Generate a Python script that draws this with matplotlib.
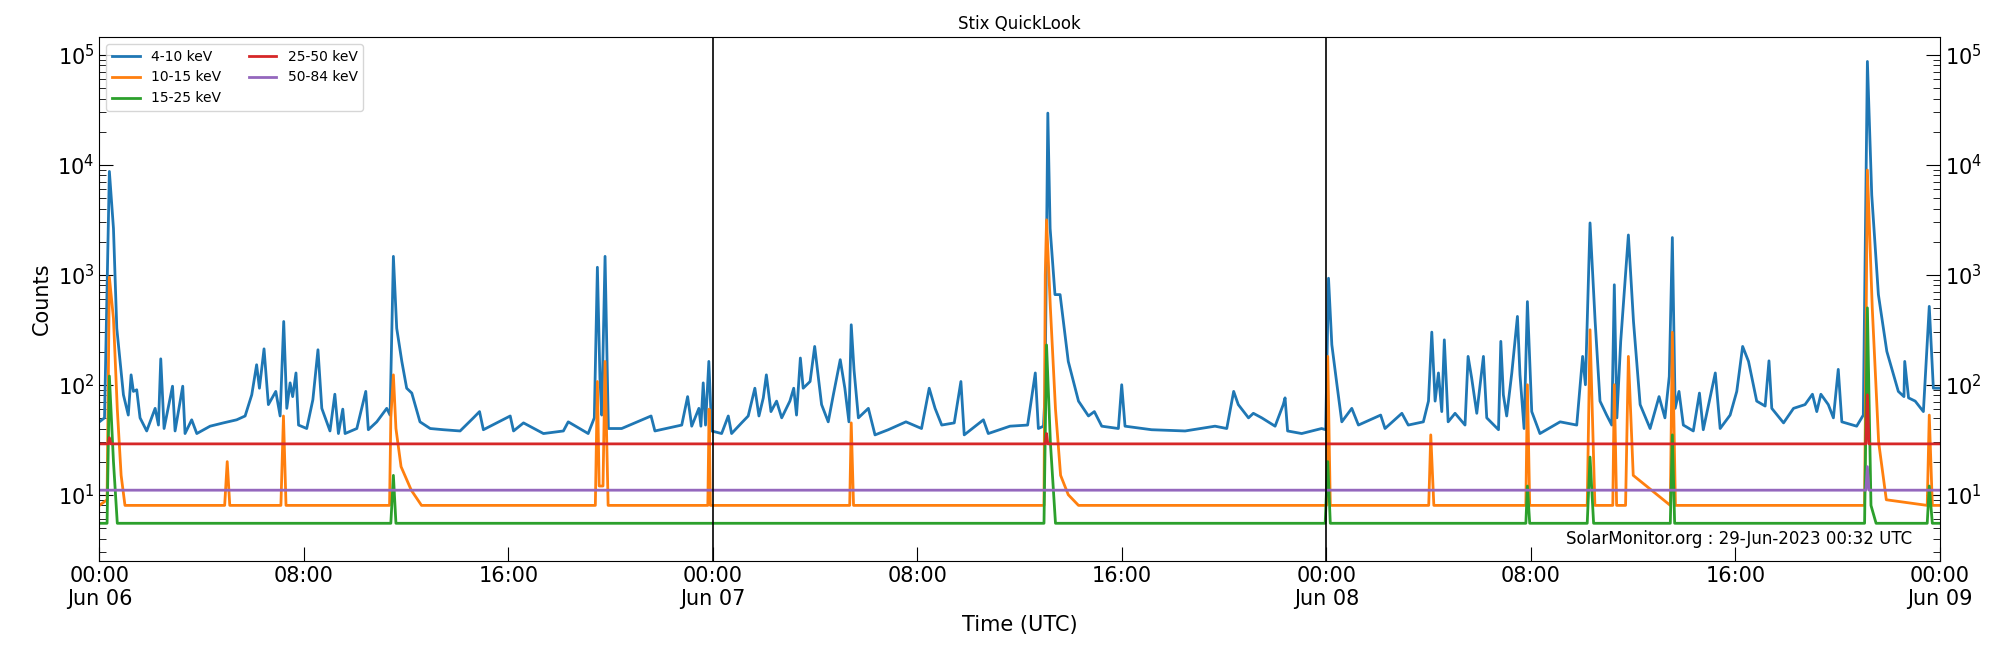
import matplotlib
matplotlib.use("Agg")
import matplotlib.pyplot as plt
from matplotlib.ticker import LogLocator, NullFormatter

t_4_10 = [0.0, 0.2, 0.39, 0.55, 0.68, 0.94, 1.13, 1.24, 1.33, 1.46, 1.59, 1.85, 2.18, 2.31, 2.40, 2.53,
          2.86, 2.96, 3.26, 3.35, 3.61, 3.81, 4.33, 4.85, 5.37, 5.70, 5.96, 6.15, 6.26, 6.44, 6.61, 6.90,
          7.07, 7.21, 7.33, 7.46, 7.56, 7.69, 7.79, 8.11, 8.35, 8.55, 8.70, 9.02, 9.21, 9.35, 9.52, 9.61,
          10.07, 10.42, 10.52, 10.85, 11.24, 11.37, 11.50, 11.63, 11.83, 12.02, 12.22, 12.54, 12.94, 13.46,
          14.11, 14.63, 14.87, 15.02, 16.07, 16.20, 16.59, 17.37, 18.15, 18.34, 19.12, 19.36, 19.48, 19.58,
          19.65, 19.78, 19.91, 20.43, 21.58, 21.73, 22.78, 23.01, 23.17, 23.45, 23.53, 23.62, 23.71, 23.84,
          23.95, 24.34, 24.60, 24.73, 25.12, 25.38, 25.64, 25.80, 25.97, 26.09, 26.27, 26.49, 26.69, 27.01,
          27.16, 27.27, 27.42, 27.53, 27.80, 27.98, 28.25, 28.51, 28.71, 28.98, 29.16, 29.32, 29.41, 29.52,
          29.69, 30.08, 30.34, 30.86, 31.55, 32.16, 32.46, 32.69, 32.95, 33.44, 33.70, 33.83, 34.58, 34.77,
          35.62, 36.31, 36.61, 36.73, 36.93, 36.99, 37.10, 37.19, 37.38, 37.58, 37.90, 38.30, 38.69, 38.92,
          39.21, 39.86, 39.99, 40.12, 41.16, 42.47, 43.64, 44.10, 44.37, 44.55, 44.95, 45.14, 45.47, 45.99,
          46.31, 46.38, 46.48, 47.03, 47.81, 47.97, 48.08, 48.21, 48.41, 48.60, 48.99, 49.25, 50.12, 50.29,
          50.95, 51.20, 51.79, 51.99, 52.12, 52.25, 52.38, 52.51, 52.61, 52.76, 53.03, 53.42, 53.54, 53.68,
          53.88, 54.14, 54.27, 54.73, 54.82, 54.92, 55.05, 55.25, 55.47, 55.57, 55.73, 55.86, 56.03, 56.35,
          57.14, 57.79, 58.02, 58.13, 58.31, 58.51, 58.70, 58.96, 59.16, 59.26, 59.36, 59.51, 59.81, 60.01,
          60.27, 60.66, 61.01, 61.24, 61.41, 61.53, 61.64, 61.79, 61.96, 62.35, 62.59, 62.74, 63.21, 63.40,
          63.79, 64.05, 64.28, 64.51, 64.83, 65.16, 65.31, 65.42, 65.88, 66.27, 66.72, 67.01, 67.18, 67.34,
          67.63, 67.83, 68.02, 68.16, 68.74, 69.00, 69.16, 69.33, 69.59, 69.92, 70.37, 70.59, 70.62, 70.77,
          71.03, 71.35, 71.58, 71.74, 72.0]
c_4_10 = [46, 50, 8700, 2640, 326, 81, 53, 123, 87, 90, 50, 38, 61, 43, 172, 40,
          97, 38, 97, 36, 48, 36, 42, 45, 48, 52, 81, 152, 93, 212, 66, 87,
          52, 376, 61, 104, 78, 128, 43, 40, 73, 208, 61, 38, 82, 36, 60, 36,
          40, 87, 39, 46, 61, 53, 1470, 326, 163, 93, 84, 46, 40, 39,
          38, 50, 57, 39, 52, 38, 45, 36, 38, 46, 36, 50, 1170, 115,
          53, 1470, 40, 40, 52, 38, 43, 78, 42, 61, 42, 104, 43, 163,
          38, 36, 52, 36, 45, 52, 93, 52, 76, 123, 57, 71, 50, 71,
          93, 53, 175, 93, 107, 223, 66, 46, 81, 169, 93, 46, 351, 136,
          50, 61, 35, 39, 46, 40, 93, 61, 43, 45, 107, 35, 48, 36,
          42, 43, 128, 40, 42, 81, 29500, 2640, 660, 660, 163, 71, 52, 57,
          42, 40, 100, 42, 39, 38, 42, 40, 87, 66, 50, 55, 50, 42,
          66, 76, 38, 36, 40, 39, 930, 231, 100, 46, 61, 43, 53, 40,
          55, 43, 46, 71, 301, 71, 128, 57, 256, 46, 55, 43, 181, 115,
          55, 181, 50, 39, 248, 81, 52, 128, 418, 123, 40, 570, 57, 36,
          46, 43, 181, 100, 2960, 376, 71, 53, 43, 811, 50, 248, 2300, 376,
          66, 40, 78, 50, 119, 2180, 61, 87, 43, 38, 84, 39, 128, 40,
          53, 87, 223, 163, 71, 64, 165, 61, 45, 61, 66, 82, 57, 82,
          66, 50, 138, 46, 42, 53, 87000, 5300, 660, 201, 87, 78, 163, 76,
          71, 57, 516, 93, 93]

t_10_15 = [0.0, 0.3, 0.39, 0.55, 0.7, 0.85, 1.0, 4.9, 5.0, 5.1, 7.1, 7.2, 7.3, 11.35, 11.4, 11.5, 11.6,
           11.8, 12.2, 12.6, 19.4, 19.48, 19.55, 19.7, 19.78, 19.9, 23.8, 23.85, 23.9, 29.35, 29.41,
           29.5, 36.95, 37.0, 37.05, 37.2, 37.4, 37.6, 37.9, 38.3, 48.0, 48.05, 48.15, 52.0, 52.08,
           52.2, 55.8, 55.86, 55.95, 58.2, 58.31, 58.5, 59.2, 59.26, 59.35, 59.7, 59.81, 60.0, 61.45,
           61.53, 61.65, 69.05, 69.16, 69.35, 69.6, 69.9, 71.5, 71.58, 71.7, 72.0]
c_10_15 = [8, 9, 950, 400, 60, 15, 8, 8, 20, 8, 8, 52, 8, 8, 50, 123, 40,
           18, 11, 8, 8, 107, 12, 12, 163, 8, 8, 60, 8, 8, 45,
           8, 8, 1000, 3160, 500, 60, 15, 10, 8, 8, 181, 8, 8, 35,
           8, 8, 100, 8, 8, 316, 8, 8, 100, 8, 8, 181, 15, 8,
           300, 8, 8, 8960, 500, 30, 9, 8, 53, 8, 8]

t_15_25 = [0.0, 0.3, 0.39, 0.55, 0.7, 11.4, 11.5, 11.6, 36.95, 37.05, 37.2, 37.4, 47.95, 48.05, 48.15,
           55.8, 55.86, 55.95, 58.2, 58.31, 58.45, 61.45, 61.53, 61.62, 69.05, 69.16, 69.3, 69.5,
           71.5, 71.58, 71.7, 72.0]
c_15_25 = [5.5, 5.5, 120, 20, 5.5, 5.5, 15, 5.5, 5.5, 230, 30, 5.5, 5.5, 20, 5.5,
           5.5, 12, 5.5, 5.5, 22, 5.5, 5.5, 35, 5.5, 5.5, 500, 8, 5.5,
           5.5, 12, 5.5, 5.5]

t_25_50 = [0.0, 0.35, 0.39, 0.45, 37.0, 37.05, 37.1, 69.1, 69.16, 69.22, 72.0]
c_25_50 = [29, 29, 33, 29, 29, 36, 29, 29, 81, 29, 29]

t_50_84 = [0.0, 69.1, 69.16, 69.22, 72.0]
c_50_84 = [11, 11, 18, 11, 11]

tick_hours = [0, 8, 16, 24, 32, 40, 48, 56, 64, 72]
tick_labels = ["00:00\nJun 06", "08:00", "16:00", "00:00\nJun 07", "08:00", "16:00",
               "00:00\nJun 08", "08:00", "16:00", "00:00\nJun 09"]

fig = plt.figure(figsize=(20, 6.5), dpi=100)
ax = fig.add_axes([0.0497, 0.137, 0.9203, 0.806])

ax.plot(t_4_10, c_4_10, color="#1f77b4", lw=2, label="4-10 keV")
ax.plot(t_10_15, c_10_15, color="#ff7f0e", lw=2, label="10-15 keV")
ax.plot(t_15_25, c_15_25, color="#2ca02c", lw=2, label="15-25 keV")
ax.plot(t_25_50, c_25_50, color="#d62728", lw=2, label="25-50 keV")
ax.plot(t_50_84, c_50_84, color="#9467bd", lw=2, label="50-84 keV")

for d in [24, 48]:
    ax.axvline(d, color="black", lw=1.2)

ax.set_yscale("log")
ax.set_ylim(2.5, 1.45e5)
ax.set_xlim(0, 72)
ax.set_xticks(tick_hours)
ax.set_xticklabels(tick_labels)
ax.yaxis.set_minor_locator(LogLocator(base=10, subs=range(2, 10), numticks=20))
ax.yaxis.set_minor_formatter(NullFormatter())
ax.tick_params(which="both", direction="in", right=True, labelright=True, labelsize=15)
ax.tick_params(which="major", length=10)
ax.tick_params(which="minor", length=5)

ax.set_title("Stix QuickLook", fontsize=12)
ax.set_xlabel("Time (UTC)", fontsize=15)
ax.set_ylabel("Counts", fontsize=15)
ax.legend(loc="upper left", ncol=2, fontsize=10)
ax.text(0.985, 0.025, "SolarMonitor.org : 29-Jun-2023 00:32 UTC", transform=ax.transAxes,
        ha="right", va="bottom", fontsize=12)

fig.savefig("out.png")
